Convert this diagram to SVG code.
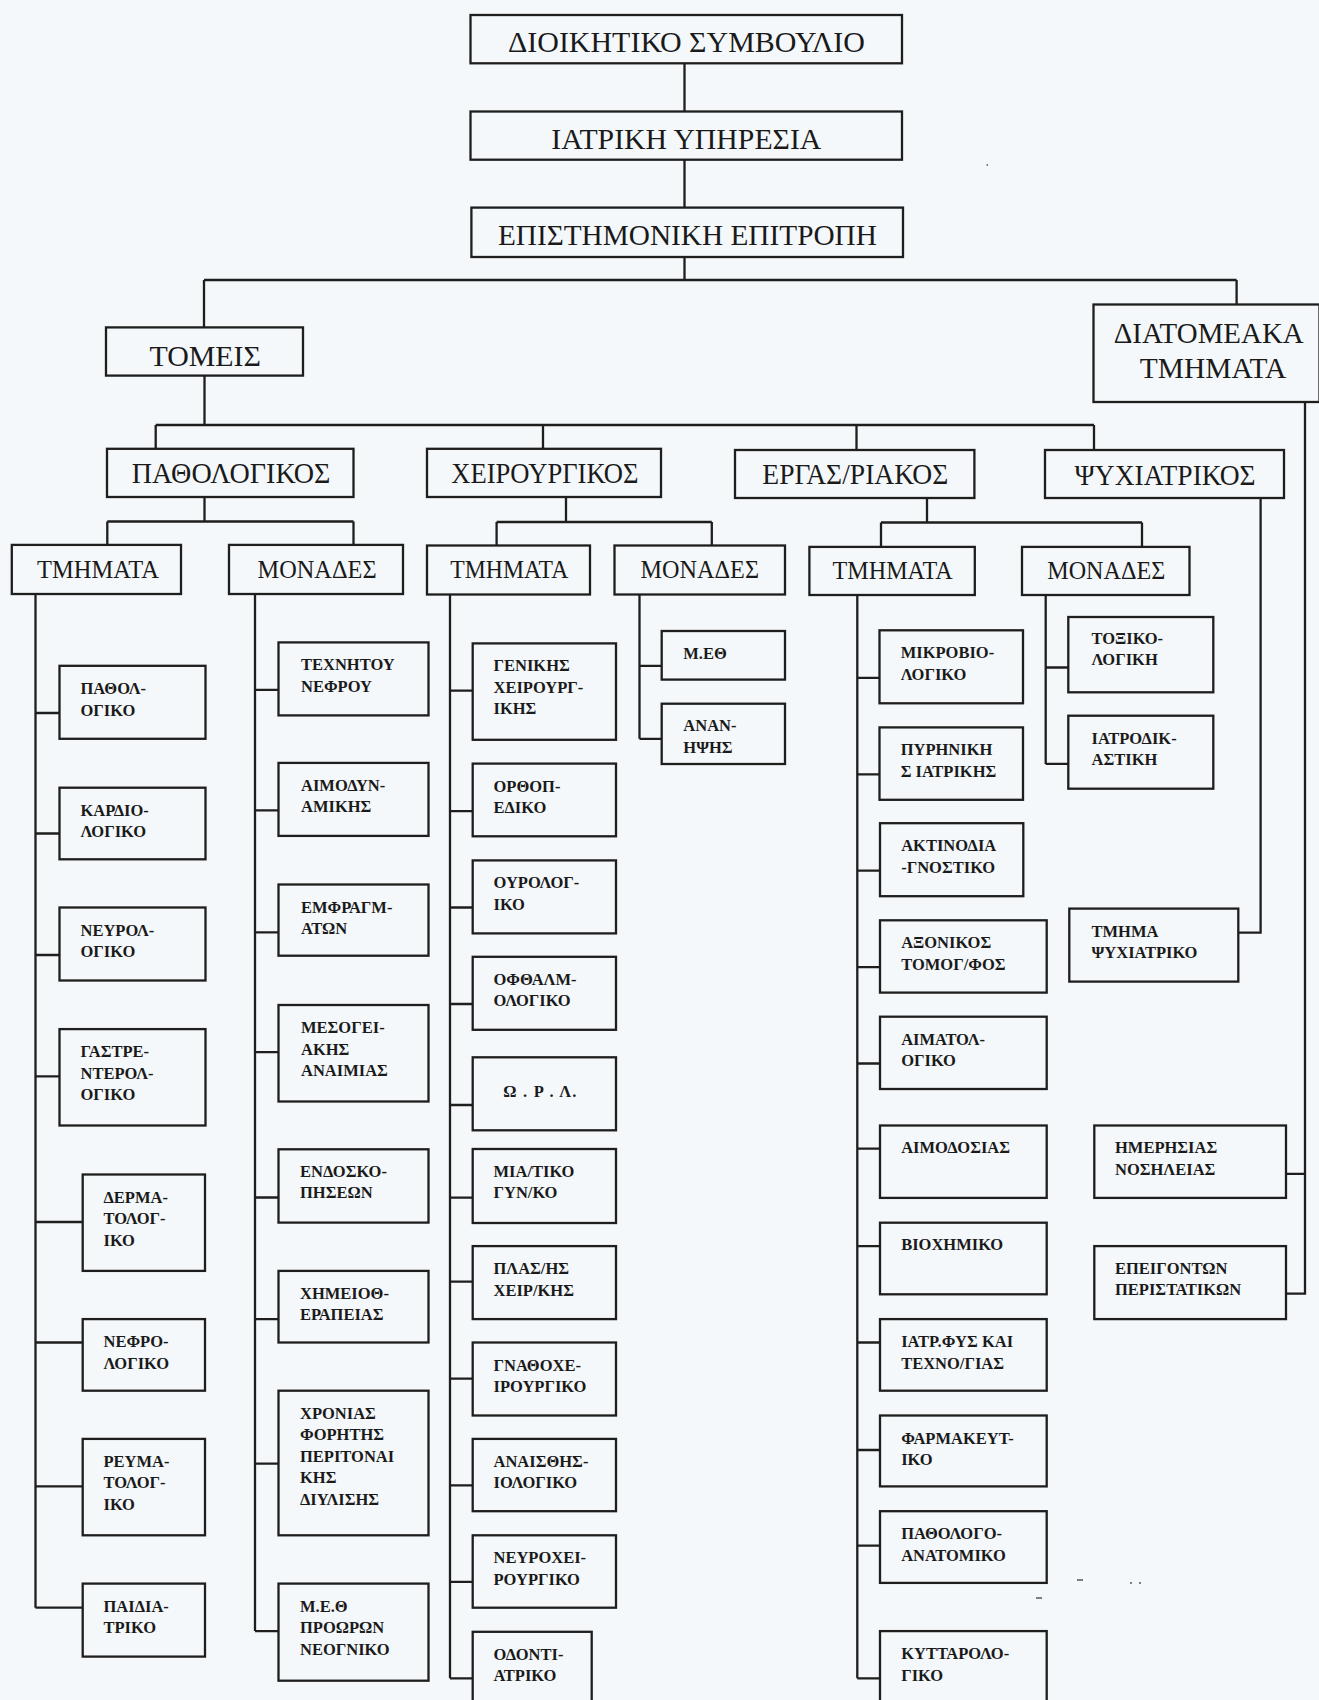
<svg xmlns="http://www.w3.org/2000/svg" width="1319" height="1700" viewBox="0 0 1319 1700">
<style>
.bx{fill:none;stroke:#1e1e1e;stroke-width:2.3}
.cn{fill:none;stroke:#1e1e1e;stroke-width:2.3}
.h{font-family:"Liberation Serif","Times New Roman",serif;font-size:29px;fill:#1a1a1a}
.m{font-family:"Liberation Serif","Times New Roman",serif;font-size:25px;fill:#1a1a1a}
.t{font-family:"Liberation Serif","Times New Roman",serif;font-size:16.5px;font-weight:bold;fill:#1a1a1a}
</style>
<rect x="0" y="0" width="1319" height="1700" fill="#f5f8fa"/>
<g id="connectors" class="cn">
<path d="M684.5,63.3V111.5M684.5,159.7V207.6M684.5,257V280M204,280H1236.6M204,280V327.4M1236.6,280V304.5"/>
<path d="M204.5,375.6V425M155.7,425H1094M155.7,425V448.8M543,425V448.8M856.5,425V450M1094,425V450"/>
<path d="M204.5,497V521.5M107.3,521.5H353.5M107.3,521.5V544.9M353.5,521.5V544.9"/>
<path d="M566,497V522M496.6,522H711.8M496.6,522V545.5M711.8,522V545.5"/>
<path d="M927,498V522.5M881,522.5H1142M881,522.5V546.9M1142,522.5V546.9"/>
<path d="M1260.6,498V932.7H1238.3"/>
<path d="M1305,402V1293.6H1286M1305,1173.8H1286"/>
<path d="M35.5,594V1607.7M35.5,713H59.5M35.5,833.5H59.5M35.5,955H59.5M35.5,1076.3H59.5M35.5,1222H82.7M35.5,1342.5H82.7M35.5,1486.4H82.7M35.5,1607.7H82.7"/>
<path d="M255,594V1631.1M255,689.9H278.5M255,810.4H278.5M255,932.3H278.5M255,1052.2H278.5M255,1197.5H278.5M255,1319.1H278.5M255,1463.7H278.5M255,1631.1H278.5"/>
<path d="M450,595V1678.3M450,690.6H472.7M450,811.1H472.7M450,907.5H472.7M450,1004H472.7M450,1105H472.7M450,1197.7H472.7M450,1281.6H472.7M450,1378.7H472.7M450,1485.4H472.7M450,1581.8H472.7M450,1678.3H472.7"/>
<path d="M639.5,594.5V738.8M639.5,665.8H661.7M639.5,738.8H661.7"/>
<path d="M857.3,595V1678.3M857.3,677.9H879.5M857.3,774.3H879.5M857.3,870.7H880M857.3,967.1H880M857.3,1063.5H880M857.3,1148.6H880M857.3,1246.1H880M857.3,1342.5H880M857.3,1450H880M857.3,1545.7H880M857.3,1678.3H880"/>
<path d="M1045.7,595V763.9M1045.7,667.5H1068.3M1045.7,763.9H1068.3"/>
</g>
<g id="n-dioikitiko"><rect class="bx" x="470.5" y="15" width="431.5" height="48.3"/><text class="h" x="508" y="52.2" textLength="357" lengthAdjust="spacingAndGlyphs">ΔΙΟΙΚΗΤΙΚΟ ΣΥΜΒΟΥΛΙΟ</text></g>
<g id="n-iatriki"><rect class="bx" x="470.5" y="111.5" width="431.5" height="48.2"/><text class="h" x="551.3" y="148.7" textLength="270" lengthAdjust="spacingAndGlyphs">ΙΑΤΡΙΚΗ ΥΠΗΡΕΣΙΑ</text></g>
<g id="n-epistimoniki"><rect class="bx" x="471.4" y="207.6" width="431.6" height="49.4"/><text class="h" x="497.9" y="245" textLength="379" lengthAdjust="spacingAndGlyphs">ΕΠΙΣΤΗΜΟΝΙΚΗ ΕΠΙΤΡΟΠΗ</text></g>
<g id="n-tomeis"><rect class="bx" x="106" y="327.4" width="197" height="48.2"/><text class="h" x="149.4" y="365.8" textLength="111.6" lengthAdjust="spacingAndGlyphs">ΤΟΜΕΙΣ</text></g>
<g id="n-diatomeaka"><rect class="bx" x="1093.5" y="304.5" width="226" height="97.5"/><text class="h" x="1113.7" y="343.2" textLength="190" lengthAdjust="spacingAndGlyphs">ΔΙΑΤΟΜΕΑΚΑ</text><text class="h" x="1139.8" y="377.6" textLength="146.5" lengthAdjust="spacingAndGlyphs">ΤΜΗΜΑΤΑ</text></g>
<g id="n-pathologikos"><rect class="bx" x="107" y="448.8" width="246.5" height="48.2"/><text class="h" x="131.7" y="483.2" textLength="198.7" lengthAdjust="spacingAndGlyphs">ΠΑΘΟΛΟΓΙΚΟΣ</text></g>
<g id="n-cheirourgikos"><rect class="bx" x="427" y="448.8" width="234" height="48.2"/><text class="h" x="451.2" y="483.2" textLength="187.3" lengthAdjust="spacingAndGlyphs">ΧΕΙΡΟΥΡΓΙΚΟΣ</text></g>
<g id="n-ergastiriakos"><rect class="bx" x="735" y="450" width="239.4" height="48"/><text class="h" x="762.3" y="484" textLength="186" lengthAdjust="spacingAndGlyphs">ΕΡΓΑΣ/ΡΙΑΚΟΣ</text></g>
<g id="n-psychiatrikos"><rect class="bx" x="1045" y="450" width="239" height="48"/><text class="h" x="1074.6" y="484.5" textLength="181" lengthAdjust="spacingAndGlyphs">ΨΥΧΙΑΤΡΙΚΟΣ</text></g>
<g id="n-tmimata1"><rect class="bx" x="11.8" y="544.9" width="169.2" height="49.1"/><text class="m" x="37" y="578" textLength="122" lengthAdjust="spacingAndGlyphs">ΤΜΗΜΑΤΑ</text></g>
<g id="n-monades1"><rect class="bx" x="229" y="544.9" width="174" height="49.1"/><text class="m" x="257.6" y="578" textLength="119" lengthAdjust="spacingAndGlyphs">ΜΟΝΑΔΕΣ</text></g>
<g id="n-tmimata2"><rect class="bx" x="427" y="545.5" width="163" height="49"/><text class="m" x="450.3" y="578.3" textLength="118" lengthAdjust="spacingAndGlyphs">ΤΜΗΜΑΤΑ</text></g>
<g id="n-monades2"><rect class="bx" x="614.5" y="545.5" width="170.5" height="49"/><text class="m" x="640.6" y="578.3" textLength="118.4" lengthAdjust="spacingAndGlyphs">ΜΟΝΑΔΕΣ</text></g>
<g id="n-tmimata3"><rect class="bx" x="809.4" y="546.9" width="165.4" height="48.1"/><text class="m" x="832.6" y="579" textLength="120" lengthAdjust="spacingAndGlyphs">ΤΜΗΜΑΤΑ</text></g>
<g id="n-monades3"><rect class="bx" x="1022" y="546.9" width="167.5" height="48.1"/><text class="m" x="1047.2" y="579" textLength="118" lengthAdjust="spacingAndGlyphs">ΜΟΝΑΔΕΣ</text></g>
<g id="a1"><rect class="bx" x="59.5" y="665.8" width="146" height="73"/><text class="t" x="80.5" y="694"><tspan x="80.5">ΠΑΘΟΛ-</tspan><tspan x="80.5" dy="21.5">ΟΓΙΚΟ</tspan></text></g>
<g id="a2"><rect class="bx" x="59.5" y="787.7" width="146" height="71.6"/><text class="t" x="80.5" y="815.7"><tspan x="80.5">ΚΑΡΔΙΟ-</tspan><tspan x="80.5" dy="21.5">ΛΟΓΙΚΟ</tspan></text></g>
<g id="a3"><rect class="bx" x="59.5" y="907.5" width="146" height="73"/><text class="t" x="80.5" y="935.5"><tspan x="80.5">ΝΕΥΡΟΛ-</tspan><tspan x="80.5" dy="21.5">ΟΓΙΚΟ</tspan></text></g>
<g id="a4"><rect class="bx" x="59.5" y="1029.1" width="146" height="96.4"/><text class="t" x="80.5" y="1057.1"><tspan x="80.5">ΓΑΣΤΡΕ-</tspan><tspan x="80.5" dy="21.5">ΝΤΕΡΟΛ-</tspan><tspan x="80.5" dy="21.5">ΟΓΙΚΟ</tspan></text></g>
<g id="a5"><rect class="bx" x="82.7" y="1174.5" width="122.3" height="96.4"/><text class="t" x="103.5" y="1202.5"><tspan x="103.5">ΔΕΡΜΑ-</tspan><tspan x="103.5" dy="21.5">ΤΟΛΟΓ-</tspan><tspan x="103.5" dy="21.5">ΙΚΟ</tspan></text></g>
<g id="a6"><rect class="bx" x="82.7" y="1319.1" width="122.3" height="71.6"/><text class="t" x="103.5" y="1347.1"><tspan x="103.5">ΝΕΦΡΟ-</tspan><tspan x="103.5" dy="21.5">ΛΟΓΙΚΟ</tspan></text></g>
<g id="a7"><rect class="bx" x="82.7" y="1438.9" width="122.3" height="96.4"/><text class="t" x="103.5" y="1466.9"><tspan x="103.5">ΡΕΥΜΑ-</tspan><tspan x="103.5" dy="21.5">ΤΟΛΟΓ-</tspan><tspan x="103.5" dy="21.5">ΙΚΟ</tspan></text></g>
<g id="a8"><rect class="bx" x="82.7" y="1583.6" width="122.3" height="73"/><text class="t" x="103.5" y="1611.6"><tspan x="103.5">ΠΑΙΔΙΑ-</tspan><tspan x="103.5" dy="21.5">ΤΡΙΚΟ</tspan></text></g>
<g id="b1"><rect class="bx" x="278.5" y="642.4" width="150" height="73"/><text class="t" x="301" y="670.2"><tspan x="301">ΤΕΧΝΗΤΟΥ</tspan><tspan x="301" dy="21.5">ΝΕΦΡΟΥ</tspan></text></g>
<g id="b2"><rect class="bx" x="278.5" y="762.9" width="150" height="73"/><text class="t" x="301" y="790.9"><tspan x="301">ΑΙΜΟΔΥΝ-</tspan><tspan x="301" dy="21.5">ΑΜΙΚΗΣ</tspan></text></g>
<g id="b3"><rect class="bx" x="278.5" y="884.5" width="150" height="71.2"/><text class="t" x="301" y="912.5"><tspan x="301">ΕΜΦΡΑΓΜ-</tspan><tspan x="301" dy="21.5">ΑΤΩΝ</tspan></text></g>
<g id="b4"><rect class="bx" x="278.5" y="1005" width="150" height="96.5"/><text class="t" x="301" y="1033"><tspan x="301">ΜΕΣΟΓΕΙ-</tspan><tspan x="301" dy="21.5">ΑΚΗΣ</tspan><tspan x="301" dy="21.5">ΑΝΑΙΜΙΑΣ</tspan></text></g>
<g id="b5"><rect class="bx" x="278.5" y="1149.3" width="150" height="73.3"/><text class="t" x="300" y="1176.5"><tspan x="300">ΕΝΔΟΣΚΟ-</tspan><tspan x="300" dy="21.5">ΠΗΣΕΩΝ</tspan></text></g>
<g id="b6"><rect class="bx" x="278.5" y="1270.9" width="150" height="71.6"/><text class="t" x="300" y="1298.9"><tspan x="300">ΧΗΜΕΙΟΘ-</tspan><tspan x="300" dy="21.5">ΕΡΑΠΕΙΑΣ</tspan></text></g>
<g id="b7"><rect class="bx" x="278.5" y="1390.7" width="150" height="144.6"/><text class="t" x="300" y="1418.7"><tspan x="300">ΧΡΟΝΙΑΣ</tspan><tspan x="300" dy="21.5">ΦΟΡΗΤΗΣ</tspan><tspan x="300" dy="21.5">ΠΕΡΙΤΟΝΑΙ</tspan><tspan x="300" dy="21.5">ΚΗΣ</tspan><tspan x="300" dy="21.5">ΔΙΥΛΙΣΗΣ</tspan></text></g>
<g id="b8"><rect class="bx" x="278.5" y="1583.6" width="150" height="97.1"/><text class="t" x="300" y="1611.6"><tspan x="300">Μ.Ε.Θ</tspan><tspan x="300" dy="21.5">ΠΡΟΩΡΩΝ</tspan><tspan x="300" dy="21.5">ΝΕΟΓΝΙΚΟ</tspan></text></g>
<g id="c1"><rect class="bx" x="472.7" y="643.4" width="143.3" height="96.4"/><text class="t" x="493.5" y="671.4"><tspan x="493.5">ΓΕΝΙΚΗΣ</tspan><tspan x="493.5" dy="21.5">ΧΕΙΡΟΥΡΓ-</tspan><tspan x="493.5" dy="21.5">ΙΚΗΣ</tspan></text></g>
<g id="c2"><rect class="bx" x="472.7" y="763.6" width="143.3" height="72.7"/><text class="t" x="493.5" y="791.6"><tspan x="493.5">ΟΡΘΟΠ-</tspan><tspan x="493.5" dy="21.5">ΕΔΙΚΟ</tspan></text></g>
<g id="c3"><rect class="bx" x="472.7" y="860.4" width="143.3" height="73"/><text class="t" x="493.5" y="888.4"><tspan x="493.5">ΟΥΡΟΛΟΓ-</tspan><tspan x="493.5" dy="21.5">ΙΚΟ</tspan></text></g>
<g id="c4"><rect class="bx" x="472.7" y="956.8" width="143.3" height="73"/><text class="t" x="493.5" y="984.8"><tspan x="493.5">ΟΦΘΑΛΜ-</tspan><tspan x="493.5" dy="21.5">ΟΛΟΓΙΚΟ</tspan></text></g>
<g id="c5"><rect class="bx" x="472.7" y="1057.3" width="143.3" height="73"/><text class="t" x="503.3" y="1097.3" textLength="73" lengthAdjust="spacing">Ω . Ρ . Λ.</text></g>
<g id="c6"><rect class="bx" x="472.7" y="1149" width="143.3" height="74"/><text class="t" x="493.5" y="1176.5"><tspan x="493.5">ΜΙΑ/ΤΙΚΟ</tspan><tspan x="493.5" dy="21.5">ΓΥΝ/ΚΟ</tspan></text></g>
<g id="c7"><rect class="bx" x="472.7" y="1246.1" width="143.3" height="73"/><text class="t" x="493.5" y="1274.1"><tspan x="493.5">ΠΛΑΣ/ΗΣ</tspan><tspan x="493.5" dy="21.5">ΧΕΙΡ/ΚΗΣ</tspan></text></g>
<g id="c8"><rect class="bx" x="472.7" y="1342.5" width="143.3" height="73"/><text class="t" x="493.5" y="1370.5"><tspan x="493.5">ΓΝΑΘΟΧΕ-</tspan><tspan x="493.5" dy="21.5">ΙΡΟΥΡΓΙΚΟ</tspan></text></g>
<g id="c9"><rect class="bx" x="472.7" y="1438.9" width="143.3" height="72.3"/><text class="t" x="493.5" y="1466.9"><tspan x="493.5">ΑΝΑΙΣΘΗΣ-</tspan><tspan x="493.5" dy="21.5">ΙΟΛΟΓΙΚΟ</tspan></text></g>
<g id="c10"><rect class="bx" x="472.7" y="1535.3" width="143.3" height="72.4"/><text class="t" x="493.5" y="1563.3"><tspan x="493.5">ΝΕΥΡΟΧΕΙ-</tspan><tspan x="493.5" dy="21.5">ΡΟΥΡΓΙΚΟ</tspan></text></g>
<g id="c11"><rect class="bx" x="472.7" y="1631.8" width="119" height="80"/><text class="t" x="493.5" y="1659.5"><tspan x="493.5">ΟΔΟΝΤΙ-</tspan><tspan x="493.5" dy="21.5">ΑΤΡΙΚΟ</tspan></text></g>
<g id="d1"><rect class="bx" x="661.7" y="631" width="123.3" height="48.6"/><text class="t" x="683.3" y="658.6">Μ.ΕΘ</text></g>
<g id="d2"><rect class="bx" x="661.7" y="703.7" width="123.3" height="60.3"/><text class="t" x="683.3" y="731"><tspan x="683.3">ΑΝΑΝ-</tspan><tspan x="683.3" dy="21.5">ΗΨΗΣ</tspan></text></g>
<g id="e1"><rect class="bx" x="879.5" y="630.3" width="143.5" height="73"/><text class="t" x="900.7" y="658.3"><tspan x="900.7">ΜΙΚΡΟΒΙΟ-</tspan><tspan x="900.7" dy="21.5">ΛΟΓΙΚΟ</tspan></text></g>
<g id="e2"><rect class="bx" x="879.5" y="727.4" width="143.5" height="72.4"/><text class="t" x="900.7" y="755.4"><tspan x="900.7">ΠΥΡΗΝΙΚΗ</tspan><tspan x="900.7" dy="21.5">Σ ΙΑΤΡΙΚΗΣ</tspan></text></g>
<g id="e3"><rect class="bx" x="880" y="823.2" width="143.3" height="73"/><text class="t" x="901.2" y="851.2"><tspan x="901.2">ΑΚΤΙΝΟΔΙΑ</tspan><tspan x="901.2" dy="21.5">-ΓΝΟΣΤΙΚΟ</tspan></text></g>
<g id="e4"><rect class="bx" x="880" y="920.3" width="166.7" height="72.3"/><text class="t" x="901.2" y="948.3"><tspan x="901.2">ΑΞΟΝΙΚΟΣ</tspan><tspan x="901.2" dy="21.5">ΤΟΜΟΓ/ΦΟΣ</tspan></text></g>
<g id="e5"><rect class="bx" x="880" y="1016.7" width="166.7" height="72.3"/><text class="t" x="901.2" y="1044.7"><tspan x="901.2">ΑΙΜΑΤΟΛ-</tspan><tspan x="901.2" dy="21.5">ΟΓΙΚΟ</tspan></text></g>
<g id="e6"><rect class="bx" x="880" y="1125.5" width="166.7" height="72.4"/><text class="t" x="901.2" y="1153">ΑΙΜΟΔΟΣΙΑΣ</text></g>
<g id="e7"><rect class="bx" x="880" y="1222.7" width="166.7" height="71.6"/><text class="t" x="901.2" y="1249.8">ΒΙΟΧΗΜΙΚΟ</text></g>
<g id="e8"><rect class="bx" x="880" y="1319.1" width="166.7" height="71.6"/><text class="t" x="901.2" y="1347.1"><tspan x="901.2">ΙΑΤΡ.ΦΥΣ ΚΑΙ</tspan><tspan x="901.2" dy="21.5">ΤΕΧΝΟ/ΓΙΑΣ</tspan></text></g>
<g id="e9"><rect class="bx" x="880" y="1415.5" width="166.7" height="70.9"/><text class="t" x="901.2" y="1443.5"><tspan x="901.2">ΦΑΡΜΑΚΕΥΤ-</tspan><tspan x="901.2" dy="21.5">ΙΚΟ</tspan></text></g>
<g id="e10"><rect class="bx" x="880" y="1511.2" width="166.7" height="71.7"/><text class="t" x="901.2" y="1539.2"><tspan x="901.2">ΠΑΘΟΛΟΓΟ-</tspan><tspan x="901.2" dy="21.5">ΑΝΑΤΟΜΙΚΟ</tspan></text></g>
<g id="e11"><rect class="bx" x="880" y="1631.1" width="166.7" height="80"/><text class="t" x="901.2" y="1659.1"><tspan x="901.2">ΚΥΤΤΑΡΟΛΟ-</tspan><tspan x="901.2" dy="21.5">ΓΙΚΟ</tspan></text></g>
<g id="f1"><rect class="bx" x="1068.3" y="617" width="145" height="75.3"/><text class="t" x="1091.5" y="643.5"><tspan x="1091.5">ΤΟΞΙΚΟ-</tspan><tspan x="1091.5" dy="21.5">ΛΟΓΙΚΗ</tspan></text></g>
<g id="f2"><rect class="bx" x="1068.3" y="715.7" width="145" height="73"/><text class="t" x="1091.5" y="743.7"><tspan x="1091.5">ΙΑΤΡΟΔΙΚ-</tspan><tspan x="1091.5" dy="21.5">ΑΣΤΙΚΗ</tspan></text></g>
<g id="g1"><rect class="bx" x="1069.3" y="908.6" width="169" height="73"/><text class="t" x="1091.5" y="936.8"><tspan x="1091.5">ΤΜΗΜΑ</tspan><tspan x="1091.5" dy="21.5">ΨΥΧΙΑΤΡΙΚΟ</tspan></text></g>
<g id="h1"><rect class="bx" x="1094.3" y="1125.5" width="191.7" height="72.4"/><text class="t" x="1115" y="1153"><tspan x="1115">ΗΜΕΡΗΣΙΑΣ</tspan><tspan x="1115" dy="21.5">ΝΟΣΗΛΕΙΑΣ</tspan></text></g>
<g id="h2"><rect class="bx" x="1094.3" y="1246.1" width="191.7" height="73"/><text class="t" x="1115" y="1273.6"><tspan x="1115">ΕΠΕΙΓΟΝΤΩΝ</tspan><tspan x="1115" dy="21.5">ΠΕΡΙΣΤΑΤΙΚΩΝ</tspan></text></g>
<g id="specks" fill="none" stroke="#555" stroke-width="1.5">
<path d="M1036,1598H1042M1077,1580H1083M1130,1583H1132M1139,1583H1141M986.5,165H988"/>
</g>
</svg>
